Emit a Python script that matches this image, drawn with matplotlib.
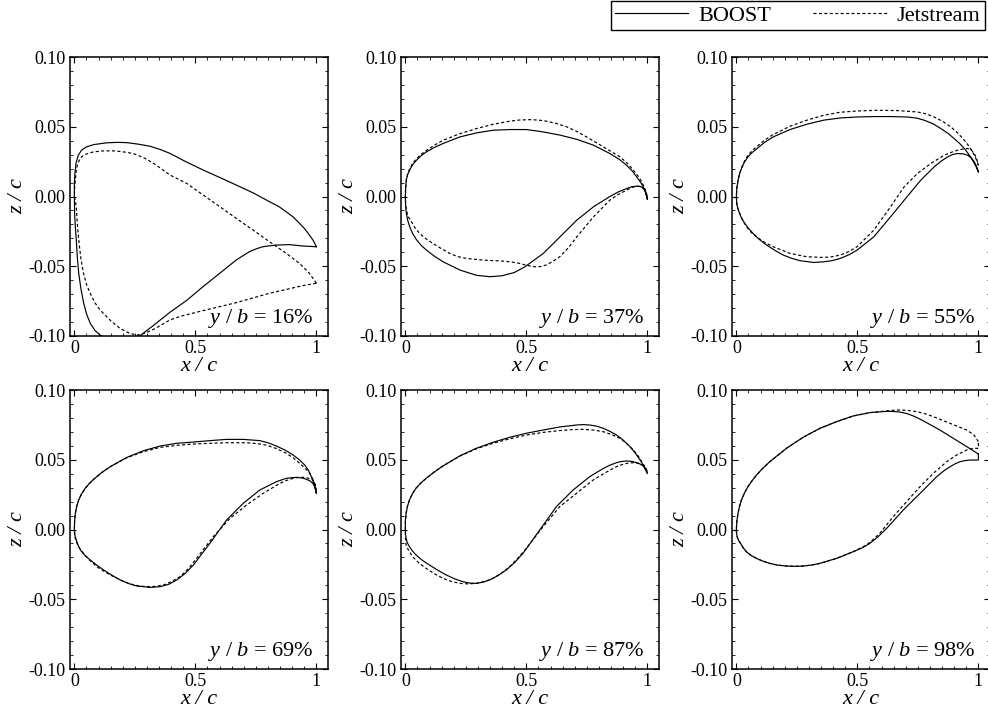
import numpy as np
import matplotlib
matplotlib.use('Agg')
import matplotlib.pyplot as plt
from matplotlib.ticker import MultipleLocator, FuncFormatter, FormatStrFormatter
from matplotlib.lines import Line2D

plt.rcParams['font.family'] = 'Liberation Serif'
plt.rcParams['mathtext.fontset'] = 'custom'
plt.rcParams['mathtext.it'] = 'Liberation Serif:italic'
plt.rcParams['mathtext.rm'] = 'Liberation Serif'
plt.rcParams['axes.unicode_minus'] = False

### Section profiles (x/c, z/c), leading edge -> trailing edge ###

span_labels = ['16%', '37%', '55%', '69%', '87%', '98%']

# y/b = 16%
boost16_upper = [(0, 0), (0.0, 0.008), (0.002, 0.016), (0.007, 0.024), (0.016, 0.0295), (0.03, 0.0333),
                 (0.05, 0.0355), (0.08, 0.0372), (0.134, 0.0385), (0.18, 0.0388), (0.217, 0.0386),
                 (0.265, 0.0375), (0.313, 0.036), (0.355, 0.0337), (0.395, 0.0309), (0.46, 0.025),
                 (0.532, 0.019), (0.6, 0.0137), (0.669, 0.0082), (0.74, 0.0025), (0.806, -0.0037),
                 (0.845, -0.0072), (0.875, -0.0109), (0.905, -0.0148), (0.93, -0.0192), (0.952, -0.0232),
                 (0.971, -0.0276), (0.988, -0.0318), (1.0, -0.036)]
boost16_lower = [(0, 0), (0.001, -0.012), (0.004, -0.022), (0.008, -0.031), (0.012, -0.043),
                 (0.018, -0.055), (0.027, -0.066), (0.038, -0.076), (0.05, -0.084), (0.066, -0.091),
                 (0.085, -0.096), (0.107, -0.0995), (0.19, -0.105), (0.27, -0.100), (0.33, -0.092),
                 (0.395, -0.083), (0.464, -0.0745), (0.532, -0.0646), (0.601, -0.055), (0.669, -0.0455),
                 (0.724, -0.0395), (0.755, -0.0373), (0.779, -0.036), (0.834, -0.0348), (0.889, -0.0345),
                 (0.944, -0.0355), (1.0, -0.036)]
jet16_upper = [(0, 0), (0.001, 0.006), (0.004, 0.0117), (0.008, 0.019), (0.014, 0.0237), (0.025, 0.0275),
               (0.038, 0.0296), (0.058, 0.031), (0.08, 0.032), (0.12, 0.0327), (0.169, 0.0327),
               (0.21, 0.0318), (0.244, 0.0308), (0.29, 0.0275), (0.33, 0.0235), (0.395, 0.0154),
               (0.464, 0.0094), (0.532, 0.0011), (0.601, -0.0073), (0.669, -0.0157), (0.738, -0.024),
               (0.806, -0.0324), (0.875, -0.0407), (0.93, -0.0479), (0.971, -0.055), (1.0, -0.0622)]
jet16_lower = [(0, 0), (0.004, -0.003), (0.008, -0.0074), (0.012, -0.019), (0.018, -0.0311),
               (0.027, -0.0445), (0.038, -0.0552), (0.051, -0.0635), (0.066, -0.0695), (0.085, -0.0762),
               (0.107, -0.0815), (0.15, -0.0890), (0.189, -0.0946), (0.225, -0.0978), (0.258, -0.0994),
               (0.295, -0.0978), (0.33, -0.095), (0.365, -0.0915), (0.395, -0.0885), (0.44, -0.0858),
               (0.532, -0.0818), (0.669, -0.0761), (0.806, -0.0694), (0.944, -0.0639), (1.0, -0.0622)]

# y/b = 37%
boost37_upper = [(0, 0), (0.001, 0.0055), (0.004, 0.012), (0.01, 0.016), (0.018, 0.019), (0.03, 0.0228),
                 (0.046, 0.026), (0.065, 0.0292), (0.087, 0.032), (0.12, 0.0352), (0.156, 0.038),
                 (0.225, 0.0427), (0.294, 0.0456), (0.363, 0.0475), (0.432, 0.048), (0.5, 0.048),
                 (0.57, 0.0463), (0.639, 0.044), (0.708, 0.041), (0.777, 0.0368), (0.845, 0.0308),
                 (0.885, 0.0265), (0.914, 0.0224), (0.938, 0.0182), (0.956, 0.014), (0.972, 0.0102),
                 (0.983, 0.007), (0.993, 0.003), (1.0, -0.002)]
boost37_lower = [(0, 0), (0.001, -0.006), (0.004, -0.012), (0.01, -0.0172), (0.018, -0.0217),
                 (0.03, -0.0265), (0.046, -0.031), (0.065, -0.035), (0.087, -0.0384), (0.12, -0.0428),
                 (0.156, -0.0468), (0.225, -0.0527), (0.294, -0.0565), (0.35, -0.0575), (0.40, -0.0568),
                 (0.45, -0.0545), (0.494, -0.0504), (0.57, -0.0408), (0.639, -0.0289), (0.708, -0.017),
                 (0.777, -0.0074), (0.845, 0.0), (0.88, 0.0033), (0.914, 0.0057), (0.936, 0.007),
                 (0.956, 0.0074), (0.971, 0.0072), (0.983, 0.006), (0.993, 0.003), (1.0, -0.002)]
jet37_upper = [(0, 0), (0.001, 0.0055), (0.004, 0.012), (0.01, 0.0165), (0.018, 0.02), (0.03, 0.0238),
               (0.046, 0.027), (0.065, 0.0302), (0.087, 0.033), (0.12, 0.0368), (0.156, 0.0403),
               (0.225, 0.045), (0.294, 0.0487), (0.363, 0.0518), (0.432, 0.054), (0.47, 0.0548),
               (0.514, 0.0551), (0.55, 0.0548), (0.583, 0.054), (0.625, 0.0523), (0.666, 0.05),
               (0.71, 0.0465), (0.749, 0.0427), (0.818, 0.0356), (0.887, 0.0284), (0.918, 0.0237),
               (0.942, 0.0189), (0.962, 0.0145), (0.977, 0.0105), (0.99, 0.0055), (1.0, 0.0)]
jet37_lower = [(0, 0), (0.001, -0.005), (0.004, -0.0098), (0.012, -0.0145), (0.025, -0.018),
               (0.04, -0.0225), (0.059, -0.0265), (0.085, -0.0303), (0.114, -0.0337), (0.15, -0.0375),
               (0.183, -0.0408), (0.215, -0.043), (0.252, -0.0444), (0.321, -0.0456), (0.404, -0.0463),
               (0.44, -0.047), (0.473, -0.048), (0.505, -0.0495), (0.536, -0.0504), (0.56, -0.0502),
               (0.583, -0.049), (0.61, -0.0465), (0.639, -0.043), (0.675, -0.0365), (0.708, -0.029),
               (0.777, -0.0146), (0.845, -0.0026), (0.88, 0.0015), (0.914, 0.0045), (0.936, 0.0065),
               (0.956, 0.0074), (0.977, 0.007), (0.99, 0.004), (1.0, 0.0)]

# y/b = 55%
boost55_upper = [(0, 0), (0.002, 0.006), (0.007, 0.0117), (0.013, 0.016), (0.021, 0.02), (0.033, 0.0245),
                 (0.048, 0.0284), (0.065, 0.0315), (0.083, 0.034), (0.115, 0.0386), (0.152, 0.0427),
                 (0.222, 0.048), (0.291, 0.0518), (0.36, 0.0547), (0.429, 0.0563), (0.499, 0.057),
                 (0.568, 0.0573), (0.637, 0.0573), (0.706, 0.057), (0.745, 0.0562), (0.776, 0.0547),
                 (0.812, 0.0522), (0.845, 0.0487), (0.875, 0.0452), (0.9, 0.0415), (0.922, 0.0381),
                 (0.942, 0.0344), (0.96, 0.0303), (0.976, 0.026), (0.989, 0.022), (1.0, 0.0177)]
boost55_lower = [(0, 0), (0.002, -0.0055), (0.006, -0.0085), (0.011, -0.011), (0.021, -0.0153),
                 (0.035, -0.0193), (0.05, -0.0228), (0.069, -0.0265), (0.095, -0.0308), (0.125, -0.0348),
                 (0.16, -0.0387), (0.194, -0.042), (0.228, -0.0443), (0.263, -0.046), (0.319, -0.0473),
                 (0.36, -0.0468), (0.395, -0.046), (0.429, -0.0444), (0.465, -0.0418), (0.499, -0.0384),
                 (0.568, -0.0289), (0.637, -0.0146), (0.706, 0.0), (0.762, 0.0117), (0.817, 0.0212),
                 (0.845, 0.0252), (0.873, 0.0284), (0.894, 0.0301), (0.914, 0.0308), (0.936, 0.0306),
                 (0.956, 0.0296), (0.971, 0.0276), (0.983, 0.0248), (0.993, 0.0212), (1.0, 0.0177)]
jet55_upper = [(0, 0), (0.002, 0.006), (0.007, 0.0117), (0.013, 0.0163), (0.021, 0.0205), (0.033, 0.0252),
               (0.048, 0.0296), (0.065, 0.0328), (0.083, 0.0356), (0.115, 0.0402), (0.152, 0.0444),
               (0.222, 0.0504), (0.291, 0.0547), (0.36, 0.0582), (0.429, 0.0604), (0.499, 0.0613),
               (0.582, 0.0618), (0.665, 0.0616), (0.748, 0.0606), (0.785, 0.0592), (0.817, 0.057),
               (0.853, 0.0538), (0.886, 0.0499), (0.915, 0.0455), (0.942, 0.0403), (0.96, 0.0363),
               (0.976, 0.032), (0.99, 0.0272), (1.0, 0.0224)]
jet55_lower = [(0, 0), (0.002, -0.0055), (0.007, -0.009), (0.014, -0.0122), (0.026, -0.0172),
               (0.042, -0.0217), (0.06, -0.0255), (0.083, -0.0289), (0.115, -0.0327), (0.152, -0.036),
               (0.222, -0.0408), (0.291, -0.0432), (0.36, -0.0437), (0.395, -0.0432), (0.429, -0.042),
               (0.465, -0.0395), (0.499, -0.036), (0.568, -0.0241), (0.637, -0.0074), (0.693, 0.0069),
               (0.748, 0.0165), (0.803, 0.0236), (0.859, 0.0296), (0.89, 0.0318), (0.914, 0.0332),
               (0.936, 0.034), (0.956, 0.0344), (0.971, 0.0333), (0.983, 0.0308), (0.993, 0.027),
               (1.0, 0.0224)]

# y/b = 69%
boost69_upper = [(0, 0), (0.001, 0.006), (0.004, 0.0116), (0.01, 0.0168), (0.018, 0.0212), (0.03, 0.0256),
                 (0.045, 0.0296), (0.062, 0.033), (0.08, 0.036), (0.112, 0.0407), (0.148, 0.045),
                 (0.217, 0.0517), (0.286, 0.0565), (0.354, 0.0598), (0.423, 0.0618), (0.492, 0.0627),
                 (0.56, 0.0637), (0.629, 0.0646), (0.698, 0.0646), (0.766, 0.0637), (0.8, 0.0622),
                 (0.835, 0.0598), (0.87, 0.057), (0.904, 0.0534), (0.93, 0.0499), (0.952, 0.0462),
                 (0.967, 0.0425), (0.979, 0.0379), (0.991, 0.0323), (1.0, 0.026)]
boost69_lower = [(0, 0), (0.002, -0.004), (0.008, -0.0075), (0.015, -0.0112), (0.025, -0.0147),
                 (0.043, -0.0185), (0.066, -0.0219), (0.092, -0.0255), (0.121, -0.029), (0.155, -0.0328),
                 (0.19, -0.0362), (0.225, -0.0388), (0.258, -0.0405), (0.313, -0.0415), (0.354, -0.041),
                 (0.39, -0.0393), (0.423, -0.0362), (0.458, -0.0315), (0.492, -0.0254), (0.56, -0.0099),
                 (0.629, 0.0068), (0.698, 0.0188), (0.766, 0.0283), (0.835, 0.0343), (0.876, 0.0367),
                 (0.918, 0.0374), (0.942, 0.0369), (0.959, 0.036), (0.974, 0.0348), (0.986, 0.033),
                 (0.995, 0.0298), (1.0, 0.026)]
jet69_upper = [(0, 0), (0.001, 0.006), (0.004, 0.0116), (0.01, 0.0168), (0.018, 0.0212), (0.03, 0.0256),
               (0.045, 0.0296), (0.062, 0.033), (0.08, 0.036), (0.112, 0.0407), (0.148, 0.045),
               (0.217, 0.0515), (0.286, 0.0558), (0.354, 0.0589), (0.423, 0.0603), (0.492, 0.0613),
               (0.56, 0.0618), (0.629, 0.0622), (0.71, 0.0622), (0.755, 0.0616), (0.793, 0.0605),
               (0.835, 0.058), (0.876, 0.0546), (0.905, 0.0513), (0.931, 0.0474), (0.953, 0.044),
               (0.973, 0.0403), (0.988, 0.035), (1.0, 0.0283)]
jet69_lower = [(0, 0), (0.002, -0.005), (0.006, -0.0078), (0.011, -0.0099), (0.022, -0.0135),
               (0.038, -0.0171), (0.062, -0.0218), (0.093, -0.0267), (0.127, -0.0305), (0.162, -0.0338),
               (0.197, -0.0367), (0.23, -0.039), (0.265, -0.0404), (0.299, -0.041), (0.335, -0.0408),
               (0.368, -0.0398), (0.4, -0.0375), (0.437, -0.0338), (0.47, -0.0283), (0.505, -0.0207),
               (0.574, -0.0051), (0.643, 0.008), (0.712, 0.0176), (0.78, 0.0259), (0.849, 0.0331),
               (0.877, 0.0352), (0.904, 0.0367), (0.925, 0.0373), (0.945, 0.0374), (0.966, 0.0368),
               (0.986, 0.0355), (0.995, 0.0325), (1.0, 0.0283)]

# y/b = 87%
boost87_upper = [(0, 0), (0.0, 0.006), (0.003, 0.0116), (0.009, 0.0168), (0.017, 0.0212), (0.029, 0.0256),
                 (0.044, 0.0296), (0.064, 0.0333), (0.086, 0.0367), (0.12, 0.0413), (0.155, 0.0455),
                 (0.224, 0.0527), (0.293, 0.0582), (0.362, 0.0625), (0.431, 0.0661), (0.5, 0.069),
                 (0.569, 0.0713), (0.638, 0.0735), (0.707, 0.0749), (0.735, 0.0752), (0.762, 0.0749),
                 (0.79, 0.0741), (0.818, 0.0725), (0.846, 0.0703), (0.873, 0.0677), (0.9, 0.0641),
                 (0.928, 0.0594), (0.95, 0.0548), (0.97, 0.0498), (0.986, 0.0452), (1.0, 0.0403)]
boost87_lower = [(0, 0), (0.001, -0.0035), (0.003, -0.0063), (0.008, -0.0095), (0.017, -0.0123),
                 (0.029, -0.0153), (0.044, -0.0183), (0.07, -0.0221), (0.099, -0.0254), (0.134, -0.0292),
                 (0.169, -0.0326), (0.204, -0.0354), (0.238, -0.0374), (0.265, -0.0384), (0.293, -0.0386),
                 (0.32, -0.0378), (0.348, -0.0362), (0.383, -0.033), (0.417, -0.029), (0.452, -0.0236),
                 (0.486, -0.0171), (0.555, -0.0004), (0.624, 0.0164), (0.693, 0.0283), (0.762, 0.0379),
                 (0.818, 0.0438), (0.846, 0.0462), (0.873, 0.0479), (0.894, 0.0488), (0.914, 0.0491),
                 (0.936, 0.0488), (0.956, 0.0479), (0.971, 0.0468), (0.983, 0.0455), (0.993, 0.043),
                 (1.0, 0.0403)]
jet87_upper = [(0, 0), (0.0, 0.006), (0.003, 0.0116), (0.009, 0.0168), (0.017, 0.0212), (0.029, 0.0256),
               (0.044, 0.0296), (0.064, 0.0333), (0.086, 0.0367), (0.12, 0.0413), (0.155, 0.0455),
               (0.224, 0.0525), (0.293, 0.0578), (0.362, 0.0618), (0.431, 0.065), (0.5, 0.0677),
               (0.569, 0.0696), (0.638, 0.0709), (0.69, 0.0716), (0.735, 0.0718), (0.778, 0.0713),
               (0.818, 0.0701), (0.853, 0.068), (0.887, 0.0654), (0.915, 0.0616), (0.942, 0.057),
               (0.961, 0.053), (0.977, 0.0486), (0.99, 0.0448), (1.0, 0.0415)]
jet87_lower = [(0, 0), (0.0, -0.005), (0.003, -0.0111), (0.012, -0.0145), (0.03, -0.0195),
               (0.056, -0.024), (0.086, -0.0279), (0.12, -0.0317), (0.155, -0.035), (0.19, -0.0372),
               (0.224, -0.0386), (0.258, -0.039), (0.293, -0.0386), (0.328, -0.0372), (0.362, -0.035),
               (0.397, -0.0313), (0.431, -0.0267), (0.465, -0.0205), (0.5, -0.0135), (0.569, 0.002),
               (0.638, 0.0164), (0.707, 0.0259), (0.776, 0.0355), (0.845, 0.0426), (0.875, 0.0452),
               (0.901, 0.0469), (0.922, 0.0476), (0.942, 0.0479), (0.964, 0.0474), (0.983, 0.0462),
               (0.993, 0.0442), (1.0, 0.0415)]

# y/b = 98%
boost98_upper = [(0, 0), (0.002, 0.006), (0.007, 0.0116), (0.013, 0.0165), (0.021, 0.0212), (0.033, 0.026),
                 (0.048, 0.0307), (0.065, 0.035), (0.083, 0.039), (0.11, 0.044), (0.138, 0.0486),
                 (0.207, 0.0582), (0.276, 0.0661), (0.345, 0.0725), (0.414, 0.0773), (0.483, 0.0814),
                 (0.552, 0.0838), (0.621, 0.0847), (0.65, 0.0846), (0.676, 0.0842), (0.705, 0.0831),
                 (0.731, 0.0814), (0.758, 0.0792), (0.786, 0.0766), (0.841, 0.0713), (0.897, 0.0653),
                 (0.952, 0.0594), (1.0, 0.0541)]
boost98_lower = [(0, 0), (0.001, -0.003), (0.003, -0.0051), (0.009, -0.0078), (0.017, -0.0099),
                 (0.028, -0.013), (0.041, -0.0159), (0.06, -0.0185), (0.083, -0.0207), (0.11, -0.0227),
                 (0.138, -0.0243), (0.17, -0.0255), (0.207, -0.0262), (0.24, -0.0264), (0.276, -0.0262),
                 (0.31, -0.0255), (0.345, -0.0243), (0.414, -0.0207), (0.483, -0.0159), (0.52, -0.0132),
                 (0.552, -0.0099), (0.585, -0.0053), (0.621, 0.0008), (0.69, 0.014), (0.759, 0.0259),
                 (0.828, 0.0379), (0.857, 0.042), (0.883, 0.045), (0.905, 0.0472), (0.924, 0.0486),
                 (0.946, 0.0494), (0.966, 0.0498), (1.0, 0.0498), (1.0, 0.0541)]
jet98_upper = [(0, 0), (0.002, 0.006), (0.007, 0.0116), (0.013, 0.0165), (0.021, 0.0212), (0.033, 0.026),
               (0.048, 0.0307), (0.065, 0.035), (0.083, 0.039), (0.11, 0.044), (0.138, 0.0486),
               (0.207, 0.0582), (0.276, 0.0661), (0.345, 0.0725), (0.414, 0.0773), (0.483, 0.0814),
               (0.552, 0.0838), (0.621, 0.085), (0.65, 0.0855), (0.676, 0.0857), (0.71, 0.0853),
               (0.745, 0.0845), (0.78, 0.083), (0.814, 0.0809), (0.883, 0.0761), (0.952, 0.0713),
               (0.982, 0.0677), (1.0, 0.063)]
jet98_lower = [(0, 0), (0.001, -0.003), (0.003, -0.0051), (0.009, -0.0078), (0.017, -0.0099),
               (0.028, -0.013), (0.041, -0.0159), (0.06, -0.0185), (0.083, -0.0207), (0.11, -0.0227),
               (0.138, -0.0243), (0.17, -0.0255), (0.207, -0.0262), (0.24, -0.0264), (0.276, -0.0262),
               (0.31, -0.0255), (0.345, -0.0243), (0.414, -0.0207), (0.483, -0.0159), (0.538, -0.0111),
               (0.565, -0.0072), (0.593, -0.0027), (0.648, 0.0092), (0.703, 0.0199), (0.759, 0.0307),
               (0.814, 0.0403), (0.869, 0.0486), (0.91, 0.0534), (0.952, 0.057), (0.979, 0.0582),
               (1.0, 0.0582), (1.0, 0.063)]

boost_sections = [(boost16_upper, boost16_lower), (boost37_upper, boost37_lower),
                  (boost55_upper, boost55_lower), (boost69_upper, boost69_lower),
                  (boost87_upper, boost87_lower), (boost98_upper, boost98_lower)]
jet_sections = [(jet16_upper, jet16_lower), (jet37_upper, jet37_lower),
                (jet55_upper, jet55_lower), (jet69_upper, jet69_lower),
                (jet87_upper, jet87_lower), (jet98_upper, jet98_lower)]


def contour(upper, lower):
    # trailing edge -> upper surface -> leading edge -> lower surface
    pts = np.array(upper[::-1] + lower[1:])
    return pts[:, 0], pts[:, 1]


fig = plt.figure(figsize=(9.88, 7.15), dpi=100)

W, H = 988, 715
col_left = [70, 401, 732]
col_width = [258, 258, 258]
row_top = [57, 390]
row_height = 279

dash = (0, (2.6, 2.0))

for i in range(6):
    r, c = divmod(i, 3)
    ax = fig.add_axes([col_left[c] / W, 1 - (row_top[r] + row_height) / H,
                       col_width[c] / W, row_height / H])

    xb, zb = contour(*boost_sections[i])
    xj, zj = contour(*jet_sections[i])
    ax.plot(xb, zb, color='black', lw=0.85, solid_joinstyle='round')
    ax.plot(xj, zj, color='black', lw=0.85, linestyle=dash)

    ax.set_xlim(-0.018, 1.048)
    ax.set_ylim(-0.1, 0.1)
    ax.xaxis.set_major_locator(MultipleLocator(0.5))
    ax.xaxis.set_minor_locator(MultipleLocator(0.05))
    ax.yaxis.set_major_locator(MultipleLocator(0.05))
    ax.yaxis.set_minor_locator(MultipleLocator(0.01))
    ax.xaxis.set_major_formatter(FuncFormatter(lambda v, p: f'{v:g}'))
    ax.yaxis.set_major_formatter(FormatStrFormatter('%.2f'))
    ax.tick_params(which='both', direction='in', top=True, right=True, labelsize=13, pad=3)
    ax.tick_params(which='major', length=4.3, width=0.8)
    ax.tick_params(which='minor', length=2.0, width=0.6)
    for sp in ax.spines.values():
        sp.set_linewidth(1.1)

    ax.set_xlabel('x / c', fontstyle='italic', fontsize=16, labelpad=0)
    ax.set_ylabel('z / c', fontstyle='italic', fontsize=16, labelpad=1)

    ax.text(0.945, 0.045, r'$y\ /\ b$ = ' + span_labels[i], transform=ax.transAxes,
            ha='right', va='baseline', fontsize=16)

handles = [Line2D([], [], color='black', lw=0.85),
           Line2D([], [], color='black', lw=0.85, linestyle=dash)]
leg = fig.legend(handles, ['BOOST', 'Jetstream'], loc='upper right',
                 bbox_to_anchor=(985 / W, 1 - 1 / H), ncol=2, fontsize=16,
                 frameon=True, fancybox=False, edgecolor='black', framealpha=1,
                 borderpad=0.2, handlelength=3.3, handletextpad=0.45,
                 columnspacing=1.9, borderaxespad=0)
leg.get_frame().set_linewidth(1.0)

fig.savefig('out.png', dpi=100)
